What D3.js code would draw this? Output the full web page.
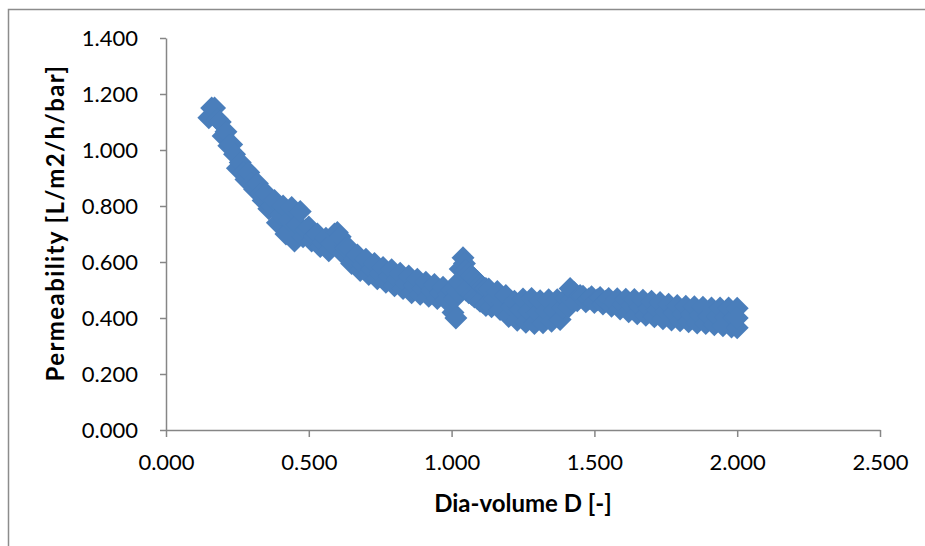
<!DOCTYPE html>
<html>
<head>
<meta charset="utf-8">
<script src="https://cdn.jsdelivr.net/npm/d3@7"></script>
<style>
  body { margin: 0; background: #fff; }
  text { font-family: Lato, "Open Sans", sans-serif; }
</style>
</head>
<body>
<div id="chart"></div>
<script>
// dia-volume D [-] and permeability [L/m2/h/bar]
const diaVolume = [
  0.15, 0.16, 0.17, 0.18, 0.19, 0.20, 0.21, 0.22, 0.23, 0.24,
  0.25, 0.26, 0.27, 0.28, 0.29, 0.30, 0.31, 0.32, 0.33, 0.34,
  0.35, 0.36, 0.37, 0.38, 0.39, 0.40, 0.41, 0.42, 0.43, 0.44,
  0.45, 0.46, 0.47, 0.48, 0.49, 0.50, 0.51, 0.52, 0.53, 0.54,
  0.55, 0.56, 0.57, 0.58, 0.59, 0.60, 0.61, 0.62, 0.63, 0.64,
  0.65, 0.66, 0.67, 0.68, 0.69, 0.70, 0.71, 0.72, 0.73, 0.74,
  0.75, 0.76, 0.77, 0.78, 0.79, 0.80, 0.81, 0.82, 0.83, 0.84,
  0.85, 0.86, 0.87, 0.88, 0.89, 0.90, 0.91, 0.92, 0.93, 0.94,
  0.95, 0.96, 0.97, 0.98, 0.99, 1.00,
  1.005, 1.01, 1.015, 1.02, 1.025, 1.03, 1.04, 1.045,
  1.05, 1.05, 1.06, 1.06, 1.07, 1.07, 1.08, 1.08, 1.09, 1.09, 1.10, 1.10, 1.11, 1.11, 1.12, 1.12,
  1.13, 1.14, 1.15, 1.16, 1.17, 1.18, 1.19, 1.20, 1.21, 1.22,
  1.23, 1.24, 1.25, 1.26, 1.27, 1.28, 1.29, 1.30, 1.31, 1.32,
  1.33, 1.34, 1.35, 1.36, 1.37, 1.38, 1.39, 1.40, 1.41,
  1.415, 1.42, 1.43, 1.44, 1.45,
  1.46, 1.47, 1.48, 1.49, 1.50, 1.51, 1.52, 1.53, 1.54, 1.55,
  1.56, 1.57, 1.58, 1.59, 1.60, 1.61, 1.62, 1.63, 1.64, 1.65,
  1.66, 1.67, 1.68, 1.69, 1.70, 1.71, 1.72, 1.73, 1.74, 1.75,
  1.76, 1.77, 1.78, 1.79, 1.80, 1.81, 1.82, 1.83, 1.84, 1.85,
  1.86, 1.87, 1.88, 1.89, 1.90, 1.91, 1.92, 1.93, 1.94, 1.95,
  1.96, 1.97, 1.98, 1.99, 2.00, 2.00, 2.00
];
const permeability = [
  1.115, 1.150, 1.150, 1.110, 1.100, 1.050, 1.065, 1.015, 1.020, 0.985,
  0.935, 0.955, 0.920, 0.895, 0.920, 0.880, 0.860, 0.880, 0.845, 0.820,
  0.845, 0.790, 0.800, 0.820, 0.740, 0.770, 0.800, 0.700, 0.750, 0.795,
  0.675, 0.735, 0.780, 0.690, 0.715, 0.725, 0.675, 0.690, 0.700, 0.655,
  0.670, 0.685, 0.640, 0.665, 0.700, 0.705, 0.690, 0.630, 0.650, 0.650,
  0.595, 0.610, 0.625, 0.570, 0.590, 0.610, 0.555, 0.575, 0.595, 0.540,
  0.560, 0.580, 0.528, 0.550, 0.572, 0.515, 0.538, 0.560, 0.505, 0.525,
  0.550, 0.490, 0.515, 0.538, 0.485, 0.505, 0.528, 0.478, 0.498, 0.520,
  0.470, 0.490, 0.510, 0.465, 0.485, 0.500,
  0.420, 0.470, 0.400, 0.495, 0.530, 0.575, 0.615, 0.595,
  0.570, 0.500, 0.560, 0.490, 0.550, 0.485, 0.540, 0.475, 0.530, 0.470, 0.520, 0.460, 0.510, 0.455, 0.505, 0.445,
  0.504, 0.440, 0.468, 0.495, 0.430, 0.455, 0.480, 0.405, 0.440, 0.460,
  0.392, 0.430, 0.468, 0.385, 0.425, 0.470, 0.380, 0.420, 0.462, 0.383,
  0.425, 0.465, 0.388, 0.428, 0.465, 0.395, 0.435, 0.470, 0.440,
  0.505, 0.465, 0.490, 0.462, 0.480,
  0.478, 0.458, 0.468, 0.476, 0.455, 0.465, 0.473, 0.450, 0.460, 0.470,
  0.442, 0.455, 0.469, 0.432, 0.448, 0.467, 0.422, 0.445, 0.466, 0.415,
  0.440, 0.463, 0.410, 0.435, 0.460, 0.404, 0.430, 0.455, 0.397, 0.422,
  0.449, 0.393, 0.418, 0.445, 0.390, 0.415, 0.442, 0.387, 0.412, 0.440,
  0.382, 0.410, 0.438, 0.380, 0.407, 0.436, 0.376, 0.405, 0.436, 0.372,
  0.403, 0.436, 0.368, 0.400, 0.435, 0.365, 0.400
];
const xTicks = [0, 0.5, 1.0, 1.5, 2.0, 2.5];
const yTicks = [0, 0.2, 0.4, 0.6, 0.8, 1.0, 1.2, 1.4];
const xTitle = "Dia-volume D [-]";
const yTitle = "Permeability [L/m2/h/bar]";

var width = 925, height = 546;
var margin = { left: 166, top: 38, right: 45, bottom: 116 };
var axisColor = "#868686";
var markerColor = "#4a7ebb";

var svg = d3.select("#chart").append("svg")
  .attr("width", width)
  .attr("height", height);

// chart frame (only top and left edges fall inside the picture)
svg.append("rect")
  .attr("x", 8.5).attr("y", 9.5)
  .attr("width", width + 20).attr("height", height + 20)
  .attr("fill", "none")
  .attr("stroke", "#8c8c8c")
  .attr("stroke-width", 1.5);

var x = d3.scaleLinear().domain([0, 2.5]).range([margin.left, width - margin.right]);
var y = d3.scaleLinear().domain([0, 1.4]).range([height - margin.bottom, margin.top]);

var fmt = d3.format(".3f");

var points = diaVolume.map(function (d, i) { return { x: d, y: permeability[i] }; });

// markers: diamonds (rotated squares)
var diamond = d3.symbol().type(d3.symbolSquare).size(264);
svg.append("g").selectAll("path")
  .data(points)
  .enter().append("path")
  .attr("d", diamond)
  .attr("transform", function (d) { return "translate(" + x(d.x) + "," + y(d.y) + ") rotate(45)"; })
  .attr("fill", markerColor);

var xAxis = svg.append("g")
  .attr("transform", "translate(0," + y(0) + ")")
  .call(d3.axisBottom(x).tickValues(xTicks).tickFormat(fmt).tickSize(7).tickSizeOuter(0).tickPadding(17));

var yAxis = svg.append("g")
  .attr("transform", "translate(" + x(0) + ",0)")
  .call(d3.axisLeft(y).tickValues(yTicks).tickFormat(fmt).tickSize(6).tickSizeOuter(0).tickPadding(22));

[xAxis, yAxis].forEach(function (a) {
  a.select(".domain").attr("stroke", axisColor).attr("stroke-width", 1.5);
  a.selectAll(".tick line").attr("stroke", axisColor).attr("stroke-width", 1.5);
  a.selectAll(".tick text")
    .attr("fill", "#000")
    .style("font-family", "Lato, sans-serif")
    .style("font-size", "22px");
});

svg.append("text")
  .attr("x", (x(0) + x(2.5)) / 2)
  .attr("y", 512)
  .attr("text-anchor", "middle")
  .style("font-size", "24px")
  .style("font-weight", "bold")
  .text(xTitle);

svg.append("text")
  .attr("transform", "translate(64," + 223 + ") rotate(-90)")
  .attr("text-anchor", "middle")
  .style("font-size", "24px")
  .style("font-weight", "bold")
  .style("letter-spacing", "1.4px")
  .text(yTitle);
</script>
</body>
</html>
